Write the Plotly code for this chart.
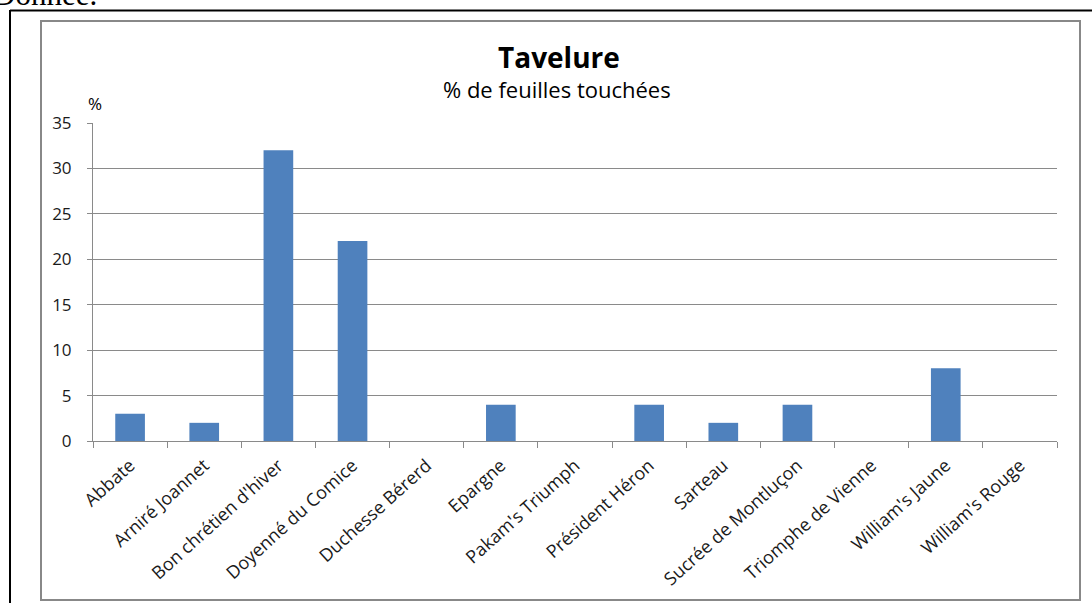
import plotly.graph_objects as go

varieties = [
    "Abbate", "Arniré Joannet", "Bon chrétien d'hiver", "Doyenné du Comice",
    "Duchesse Bérerd", "Epargne", "Pakam's Triumph", "Président Héron",
    "Sarteau", "Sucrée de Montluçon", "Triomphe de Vienne",
    "William's Jaune", "William's Rouge",
]
pct_leaves = [3, 2, 32, 22, 0, 4, 0, 4, 2, 4, 0, 8, 0]
y_ticks = [0, 5, 10, 15, 20, 25, 30, 35]

W, H = 1092, 603
L, R, T, B = 93, 35, 123, 162
PW, PH = W - L - R, H - T - B


def px_x(p):
    return (p - L) / PW


def px_y(p):
    return (H - B - p) / PH


fig = go.Figure(go.Bar(
    x=varieties,
    y=pct_leaves,
    marker=dict(color="#4F81BD", line=dict(width=0)),
))

grey = "#8a8a8a"
fig.update_layout(
    width=W, height=H,
    margin=dict(l=L, r=R, t=T, b=B),
    paper_bgcolor="white", plot_bgcolor="white",
    bargap=0.6,
    showlegend=False,
    font=dict(family="Open Sans, Lato, sans-serif", color="#1a1a1a", size=15),
    xaxis=dict(
        tickangle=-42, tickson="boundaries", ticks="outside", ticklen=6,
        tickcolor=grey, showline=True, linecolor=grey, linewidth=1,
        tickfont=dict(size=18), showgrid=False, ticklabelstandoff=6,
    ),
    yaxis=dict(
        range=[0, 35], tickvals=y_ticks, ticks="outside", ticklen=5,
        tickcolor=grey, showline=True, linecolor=grey, linewidth=1,
        gridcolor=grey, gridwidth=1, tickfont=dict(size=17),
        ticklabelstandoff=12, zeroline=False,
    ),
    shapes=[
        # inner chart frame
        dict(type="rect", xref="paper", yref="paper",
             x0=px_x(41), x1=px_x(1080), y0=px_y(600), y1=px_y(21),
             line=dict(color="#888", width=2), layer="below"),
        # outer page frame
        dict(type="line", xref="paper", yref="paper",
             x0=px_x(10), x1=px_x(1100), y0=px_y(10.5), y1=px_y(10.5),
             line=dict(color="black", width=2)),
        dict(type="line", xref="paper", yref="paper",
             x0=px_x(10), x1=px_x(10), y0=px_y(10), y1=px_y(610),
             line=dict(color="black", width=2)),
    ],
    annotations=[
        dict(text="<b>Tavelure</b>", xref="paper", yref="paper",
             x=px_x(559), y=px_y(57), yanchor="middle", showarrow=False,
             font=dict(size=28, color="black")),
        dict(text="% de feuilles touchées", xref="paper", yref="paper",
             x=px_x(557), y=px_y(89), yanchor="middle", showarrow=False,
             font=dict(size=22, color="black")),
        dict(text="%", xref="paper", yref="paper",
             x=px_x(86), y=px_y(104), yanchor="middle", showarrow=False,
             font=dict(size=17, color="black")),
        dict(text="Donnée.", xref="paper", yref="paper",
             x=px_x(-9), y=px_y(14), xanchor="left", yanchor="bottom",
             showarrow=False,
             font=dict(family="Liberation Serif, serif", size=31, color="black")),
    ],
)

fig.write_html(
    "out.html",
    config={"displayModeBar": False},
    post_script="document.body.style.margin = '0';",
)
